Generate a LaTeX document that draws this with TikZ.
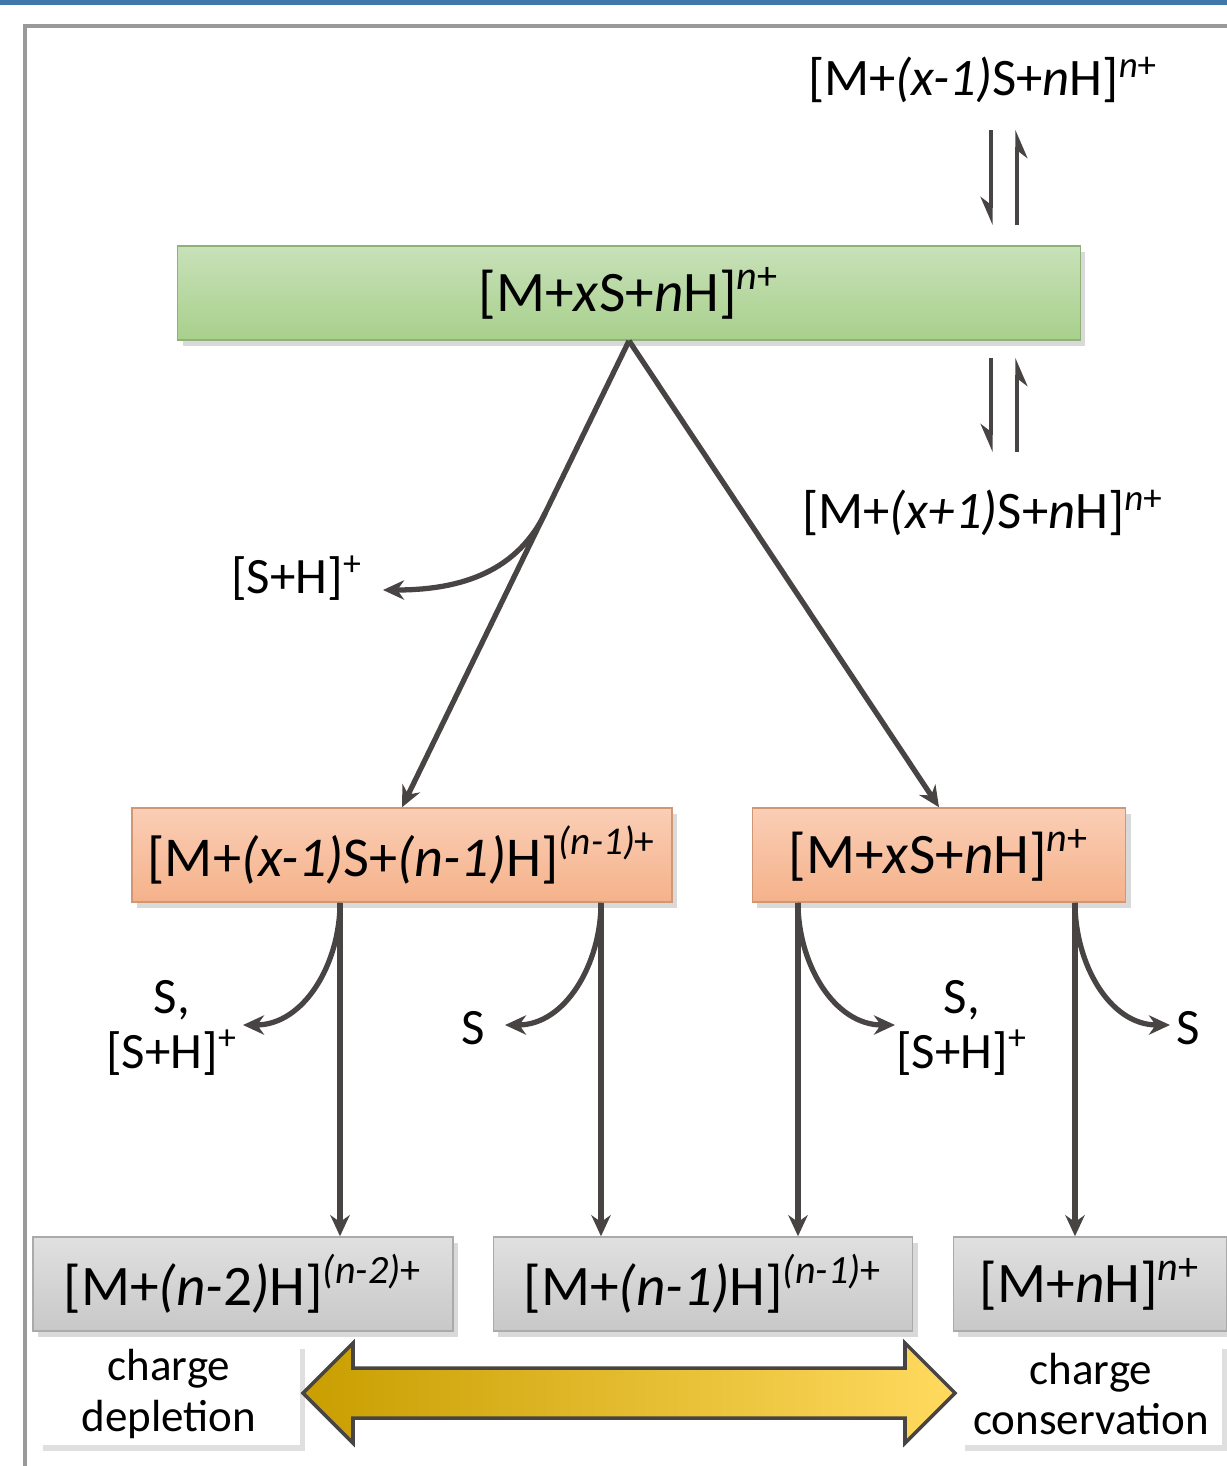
\documentclass[tikz,border=0pt]{standalone}
\usepackage{fontspec}
\setmainfont{Carlito}
\usetikzlibrary{arrows.meta, shadows, calc}
\definecolor{topblue}{RGB}{64,120,170}
\definecolor{framegray}{RGB}{153,153,153}
\definecolor{linegray}{RGB}{72,68,68}
\definecolor{greentop}{RGB}{200,225,185}
\definecolor{greenbot}{RGB}{168,208,140}
\definecolor{orangetop}{RGB}{250,206,182}
\definecolor{orangebot}{RGB}{245,178,138}
\definecolor{graytop}{RGB}{224,224,224}
\definecolor{graybot}{RGB}{200,200,200}
\definecolor{golddark}{RGB}{200,158,0}
\definecolor{goldlight}{RGB}{255,218,95}

\begin{document}
\begin{tikzpicture}[
    x=0.01cm, y=-0.01cm,
    ionbox/.style={rectangle, minimum height=0.94cm, inner sep=0pt, font=\fontsize{16.3}{19}\selectfont,
        drop shadow={shadow xshift=0.5mm, shadow yshift=-0.6mm, opacity=0.3}},
    greenbox/.style={ionbox, top color=greentop, bottom color=greenbot, draw=greenbot!85!black, line width=0.4pt},
    orangebox/.style={ionbox, top color=orangetop, bottom color=orangebot, draw=orangebot!85!black, line width=0.4pt},
    graybox/.style={ionbox, top color=graytop, bottom color=graybot, draw=graybot!85!black, line width=0.4pt},
    notebox/.style={rectangle, fill=white, minimum width=2.62cm, minimum height=1.02cm, align=center, inner sep=0pt,
        font=\fontsize{12.8}{14.3}\selectfont, drop shadow={shadow xshift=0.5mm, shadow yshift=-0.6mm, opacity=0.25}},
    lbl/.style={align=center, inner sep=0pt, font=\fontsize{14.5}{15.5}\selectfont},
    arr/.style={-{Stealth[length=6pt, width=5.5pt]}, draw=linegray, line width=1.5pt},
    harp/.style={-{Stealth[right, length=7pt, width=6pt]}, draw=linegray, line width=0.9pt}
]
    \useasboundingbox (0,0) rectangle (1227,1466);
    \fill[topblue] (0,0) rectangle (1227,5);
    \draw[framegray, line width=0.9pt] (25,1466) -- (25,26) -- (1227,26);

    % species
    \node[lbl, font=\fontsize{15}{18}\selectfont] (upper) at (983,80) {[M+\textit{(x-1)}S+\textit{n}H]\textsuperscript{\textit{n}+}};
    \node[greenbox, minimum width=9.02cm] (parent) at (629,293) {[M+\textit{x}S+\textit{n}H]\textsuperscript{\textit{n}+}};
    \node[lbl, font=\fontsize{15}{18}\selectfont] (lower) at (983,513) {[M+\textit{(x+1)}S+\textit{n}H]\textsuperscript{\textit{n}+}};

    \node[orangebox, minimum width=5.40cm, font=\fontsize{16}{19}\selectfont] (loss) at (402,855) {[M+\textit{(x-1)}S+\textit{(n-1)}H]\textsuperscript{\textit{(n-1)}+}};
    \node[orangebox, minimum width=3.73cm] (keep) at (939,855) {[M+\textit{x}S+\textit{n}H]\textsuperscript{\textit{n}+}};

    \node[graybox, minimum width=4.20cm] (prodA) at (243,1284) {[M+\textit{(n-}2\textit{)}H]\textsuperscript{\textit{(n-2)}+}};
    \node[graybox, minimum width=4.19cm] (prodB) at (703,1284) {[M+\textit{(n-1)}H]\textsuperscript{\textit{(n-1)}+}};
    \node[graybox, minimum width=2.73cm] (prodC) at (1090,1284) {[M+\textit{n}H]\textsuperscript{\textit{n}+}};

    \node[notebox] (deplete) at (169,1394) {charge\\depletion};
    \node[notebox] (conserve) at (1091,1394) {charge\\conservation};

    % neutral / ionic losses
    \node[lbl] (shA) at (297,578) {[S+H]\textsuperscript{+}};
    \node[lbl] (shB) at (172,1028) {S,\\{}[S+H]\textsuperscript{+}};
    \node[lbl] (sA) at (473,1028) {S};
    \node[lbl] (shC) at (962,1028) {S,\\{}[S+H]\textsuperscript{+}};
    \node[lbl] (sB) at (1188,1028) {S};

    % equilibria
    \coordinate (eq1a) at (991,130);  \coordinate (eq1b) at (991,225);
    \coordinate (eq1c) at (1017,225); \coordinate (eq1d) at (1017,130);
    \coordinate (eq2a) at (991,358);  \coordinate (eq2b) at (991,452);
    \coordinate (eq2c) at (1017,452); \coordinate (eq2d) at (1017,358);
    \draw[harp] (eq1a) -- (eq1b);
    \draw[harp] (eq1c) -- (eq1d);
    \draw[harp] (eq2a) -- (eq2b);
    \draw[harp] (eq2c) -- (eq2d);

    % dissociation
    \draw[arr] (parent.south) -- (loss.north);
    \draw[arr] (parent.south) -- (keep.north);
    \coordinate (kink) at ($(parent.south)!0.37!(loss.north)$);
    \coordinate (tipA) at (383,590);
    \draw[arr] (kink) to[out=244, in=0] (tipA);

    \coordinate (c1) at (340,0);
    \coordinate (c2) at (601,0);
    \coordinate (c3) at (798,0);
    \coordinate (c4) at (1075,0);
    \draw[arr] (loss.south -| c1) -- (prodA.north -| c1);
    \draw[arr] (loss.south -| c2) -- (prodB.north -| c2);
    \draw[arr] (keep.south -| c3) -- (prodB.north -| c3);
    \draw[arr] (keep.south -| c4) -- (prodC.north -| c4);

    \coordinate (tipB) at (243,1025);
    \coordinate (tipC) at (505,1025);
    \coordinate (tipD) at (895,1025);
    \coordinate (tipE) at (1170,1025);
    \draw[arr] (loss.south -| c1) to[out=-90, in=0] (tipB);
    \draw[arr] (loss.south -| c2) to[out=-90, in=0] (tipC);
    \draw[arr] (keep.south -| c3) to[out=-90, in=180] (tipD);
    \draw[arr] (keep.south -| c4) to[out=-90, in=180] (tipE);

    % charge scale
    \path[draw=linegray, line width=1pt, left color=golddark, right color=goldlight]
        (303,1393) -- (353,1343) -- (353,1368) -- (905,1368) -- (905,1343) -- (955,1393)
        -- (905,1443) -- (905,1418) -- (353,1418) -- (353,1443) -- cycle;
\end{tikzpicture}
\end{document}
